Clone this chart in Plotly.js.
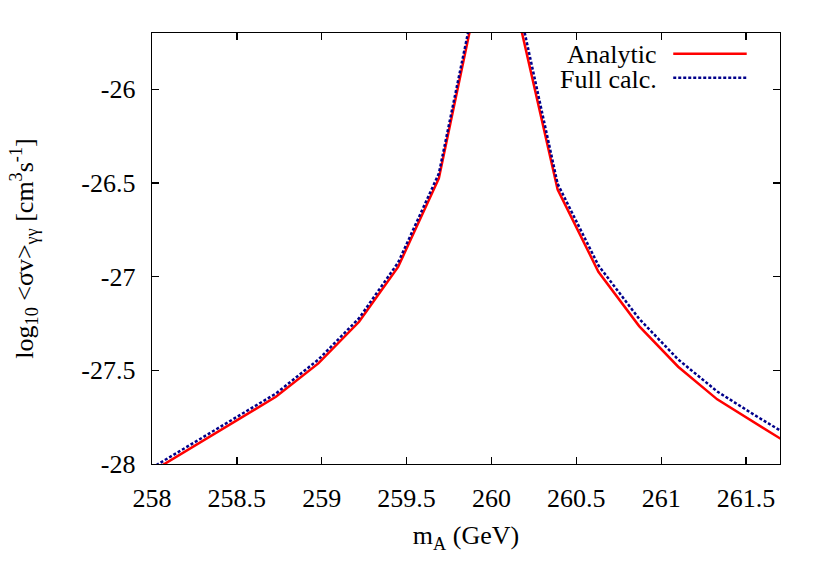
<!DOCTYPE html>
<html>
<head>
<meta charset="utf-8">
<script src="https://cdn.plot.ly/plotly-3.0.1.min.js"></script>
<style>
  html, body { margin: 0; padding: 0; background: #fff; }
  #plot { width: 830px; height: 581px; }
</style>
</head>
<body>
<div id="plot"></div>
<script>
// dark matter mass m_A (GeV)
const mA = [258.0, 258.25, 258.49, 258.73, 258.98, 259.22, 259.45, 259.69, 259.93,
            260.16, 260.39, 260.63, 260.87, 261.10, 261.33, 261.57, 261.81];

// log10 <sigma v>_{gamma gamma}
const analytic = [-28.04, -27.902, -27.774, -27.641, -27.463, -27.241, -26.948, -26.476, -25.44,
                  -25.62, -26.535, -26.974, -27.264, -27.481, -27.655, -27.79, -27.925];
const fullCalc = [-28.02, -27.885, -27.758, -27.624, -27.443, -27.222, -26.925, -26.45, -25.40,
                  -25.55, -26.505, -26.94, -27.225, -27.442, -27.613, -27.75, -27.88];

const seriesNames = ['Analytic', 'Full calc.'];

const xTicks = [258, 258.5, 259, 259.5, 260, 260.5, 261, 261.5];
const yTicks = [-28, -27.5, -27, -26.5, -26];

const font = '"Liberation Serif", "Times New Roman", serif';
const textFont = {family: font, size: 26, color: '#000'};

const traces = [{
    x: mA,
    y: analytic,
    type: 'scatter',
    mode: 'lines',
    name: seriesNames[0],
    line: {color: '#ff0000', width: 2.5},
    showlegend: false
}, {
    x: mA,
    y: fullCalc,
    type: 'scatter',
    mode: 'lines',
    name: seriesNames[1],
    line: {color: '#00008b', width: 2.5, dash: '3px,2px'},
    showlegend: false
}];

// legend drawn by hand: text on the left, sample line on the right
const legendRows = [0.949, 0.893];
const annotations = seriesNames.map((n, i) => ({
    text: n, xref: 'paper', yref: 'paper', x: 0.806, y: legendRows[i],
    xanchor: 'right', yanchor: 'middle', showarrow: false,
    borderpad: 0, font: textFont
}));
const shapes = traces.map((t, i) => ({
    type: 'line', xref: 'paper', yref: 'paper',
    x0: 0.830, x1: 0.947, y0: legendRows[i] + 0.003, y1: legendRows[i] + 0.003,
    line: {color: t.line.color, width: 2.5, dash: t.line.dash || 'solid'}
}));

function axis(extra) {
    return Object.assign({
        showgrid: false,
        zeroline: false,
        showline: true,
        linecolor: '#000',
        linewidth: 1.3,
        mirror: 'allticks',
        ticks: 'inside',
        ticklen: 7,
        tickwidth: 1.3,
        tickcolor: '#000',
        tickfont: {family: font, size: 26, color: '#000'},
        ticklabelstandoff: 10
    }, extra);
}

const layout = {
    width: 830,
    height: 581,
    margin: {l: 152, r: 50, t: 33, b: 117},
    paper_bgcolor: '#fff',
    plot_bgcolor: '#fff',
    font: textFont,
    xaxis: axis({
        range: [258, 261.7],
        tickvals: xTicks,
        ticktext: xTicks.map(String),
        title: {text: 'm<sub>A</sub> (GeV)', font: textFont, standoff: 14}
    }),
    yaxis: axis({
        range: [-28, -25.7],
        tickvals: yTicks,
        ticktext: yTicks.map(String),
        title: {text: 'log<sub>10</sub> &lt;σv&gt;<sub>γγ</sub> [cm<sup>3</sup>s<sup>-1</sup>]',
                font: textFont, standoff: 40}
    }),
    annotations: annotations,
    shapes: shapes
};

Plotly.newPlot('plot', traces, layout, {displayModeBar: false, staticPlot: true});
</script>
</body>
</html>
